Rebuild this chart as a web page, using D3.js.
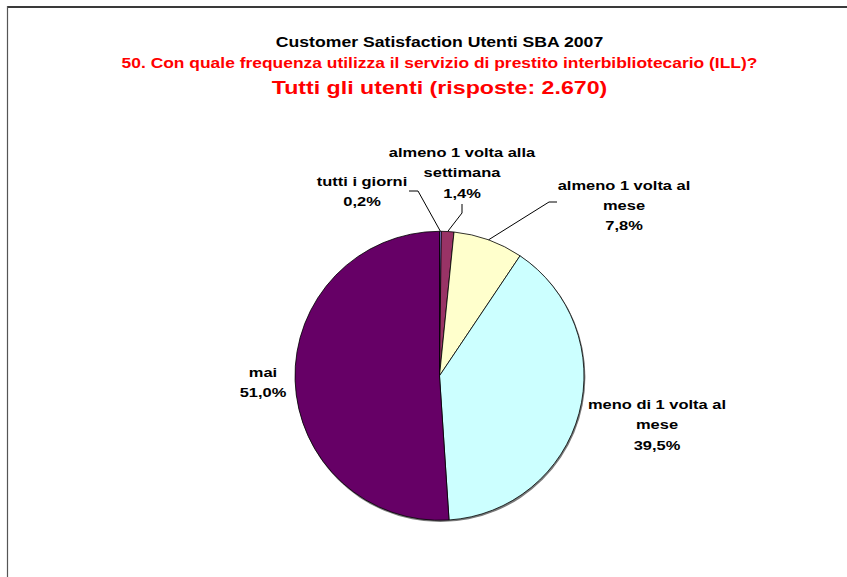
<!DOCTYPE html>
<html>
<head>
<meta charset="utf-8">
<script src="https://cdn.jsdelivr.net/npm/d3@7"></script>
<style>
  html, body { margin: 0; padding: 0; background: #fff; }
  svg { display: block; }
  text { font-family: "Liberation Sans", Arial, sans-serif; font-weight: bold; }
</style>
</head>
<body>
<svg id="chart" width="847" height="577"></svg>
<script>
// ---- data ----
const titleLines = [
  "Customer Satisfaction Utenti SBA 2007",
  "50. Con quale frequenza utilizza il servizio di prestito interbibliotecario (ILL)?",
  "Tutti gli utenti (risposte: 2.670)"
];
const categories = ["tutti i giorni", "almeno 1 volta alla settimana", "almeno 1 volta al mese", "meno di 1 volta al mese", "mai"];
const categoryLines = [
  ["tutti i giorni"],
  ["almeno 1 volta alla", "settimana"],
  ["almeno 1 volta al", "mese"],
  ["meno di 1 volta al", "mese"],
  ["mai"]
];
const values = [0.2, 1.4, 7.8, 39.5, 51.0];
const colors = ["#9999FF", "#993366", "#FFFFCC", "#CCFFFF", "#660066"];

// ---- layout ----
const W = 847, H = 577;
const cx = 439.5, cy = 375.8, R = 144.5;
const SX = 1.22;           // horizontal text stretch seen in the reference
const labelFont = 13.5, lineGap = 20.5;
// label block: centre x, first baseline y; leader: bend points (null = no leader)
const labelLayout = [
  { x: 362, y: 186, leader: [[418, 191], [409, 191]] },
  { x: 462, y: 157, leader: [[462, 213], [462, 204]] },
  { x: 624, y: 189.5, leader: [[549, 202], [557, 202]] },
  { x: 657, y: 409, leader: null },
  { x: 263, y: 377, leader: null }
];

const svg = d3.select("#chart");
svg.append("rect").attr("x", 0).attr("y", 0).attr("width", W).attr("height", H).attr("fill", "#fff");

// frame (partly outside the view)
svg.append("line").attr("x1", 7).attr("x2", W).attr("y1", 7).attr("y2", 7)
  .attr("stroke", "#3a3a3a").attr("stroke-width", 2);
svg.append("line").attr("x1", 7.5).attr("x2", 7.5).attr("y1", 6).attr("y2", H)
  .attr("stroke", "#555").attr("stroke-width", 1.2);

// titles
const titleStyle = [
  { y: 47, size: 14, color: "#000", sx: 1.26 },
  { y: 67.5, size: 14, color: "#FF0000", sx: 1.245 },
  { y: 94, size: 19, color: "#FF0000", sx: 1.22 }
];
titleLines.forEach((t, i) => {
  svg.append("g")
    .attr("transform", `translate(${cx},${titleStyle[i].y}) scale(${titleStyle[i].sx},1)`)
    .append("text")
    .attr("text-anchor", "middle")
    .attr("font-size", titleStyle[i].size)
    .attr("fill", titleStyle[i].color)
    .text(t);
});

// pie
const pie = d3.pie().sort(null).value(d => d)(values);
const arc = d3.arc().innerRadius(0).outerRadius(R);
const edgeArc = d3.arc().innerRadius(R).outerRadius(R);

const g = svg.append("g").attr("transform", `translate(${cx},${cy})`);
// soft shadow
g.append("circle").attr("cx", 0.8).attr("cy", 1.2).attr("r", R + 0.6).attr("fill", "#7a7a7a");
g.selectAll("path.slice").data(pie).enter().append("path")
  .attr("class", "slice")
  .attr("d", arc)
  .attr("fill", (d, i) => colors[i])
  .attr("stroke", "#000")
  .attr("stroke-width", 0.8)
  .attr("stroke-linejoin", "round");

// leader lines
pie.forEach((d, i) => {
  const L = labelLayout[i];
  if (!L.leader) return;
  const c = edgeArc.centroid(d);
  const pts = [[cx + c[0], cy + c[1]], ...L.leader];
  svg.append("path")
    .attr("d", d3.line()(pts))
    .attr("fill", "none")
    .attr("stroke", "#000")
    .attr("stroke-width", 1);
});

// labels
const fmt = v => v.toFixed(1).replace(".", ",") + "%";
pie.forEach((d, i) => {
  const L = labelLayout[i];
  const lines = categoryLines[i].concat([fmt(values[i])]);
  const lg = svg.append("g").attr("transform", `translate(${L.x},${L.y}) scale(${SX},1)`);
  lines.forEach((s, k) => {
    lg.append("text")
      .attr("x", 0).attr("y", k * lineGap)
      .attr("text-anchor", "middle")
      .attr("font-size", labelFont)
      .attr("fill", "#000")
      .text(s);
  });
});
</script>
</body>
</html>
